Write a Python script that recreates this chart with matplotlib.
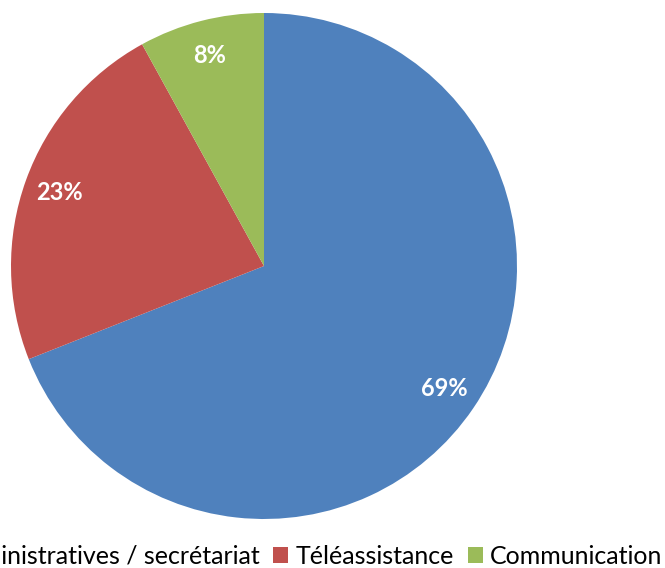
import matplotlib.pyplot as plt
from matplotlib.patches import Patch

# Données du graphique
categories = ['Tâches administratives / secrétariat', 'Téléassistance', 'Communication']
valeurs = [69, 23, 8]
couleurs = ['#4F81BD', '#C0504D', '#9BBB59']

plt.rcParams['font.family'] = ['Lato', 'DejaVu Sans']

fig = plt.figure(figsize=(6.65, 5.68), dpi=100)
W, H = 665, 568
cx, cy, r = 264, 568 - 266, 253
ax = fig.add_axes([(cx - r) / W, (cy - r) / H, 2 * r / W, 2 * r / H])

wedges, textes, pcts = ax.pie(valeurs, colors=couleurs, startangle=90, counterclock=False,
                              autopct='%d%%', pctdistance=0.86,
                              wedgeprops=dict(linewidth=0))
for t in pcts:
    t.set_color('white')
    t.set_fontweight('bold')
    t.set_fontsize(17)
ax.set_xlim(-1, 1)
ax.set_ylim(-1, 1)
ax.set_aspect('equal')

# Légende en bas (coupée à gauche comme dans l'original)
handles = [Patch(facecolor=c, edgecolor='none') for c in couleurs]
fig.legend(handles, categories, loc='center', bbox_to_anchor=(0.384, 0.021),
           ncol=3, frameon=False, fontsize=18, handlelength=0.6, handleheight=0.6,
           handletextpad=0.3, columnspacing=0.55, borderpad=0)

fig.savefig('out.png', dpi=100)
plt.close()
